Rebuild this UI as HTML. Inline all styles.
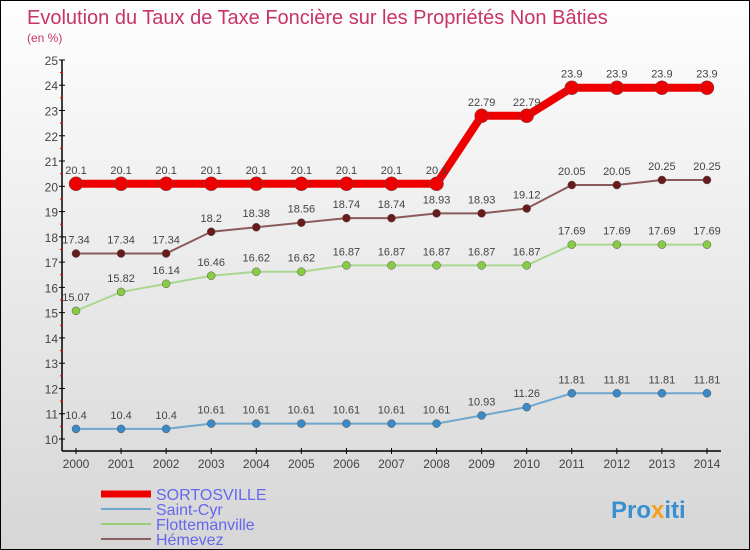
<!DOCTYPE html>
<html><head><meta charset="utf-8"><style>
body{margin:0}
#c{width:750px;height:550px;position:relative;overflow:hidden;box-sizing:border-box;border:1px solid #000;background:linear-gradient(#fefefe,#d6d6d6);font-family:"Liberation Sans",sans-serif}
</style></head><body>
<div id="c">
<svg id="s" width="750" height="550" style="position:absolute;left:0;top:0">
<text x="26" y="23" font-size="20" fill="#c8336a">Evolution du Taux de Taxe Foncière sur les Propriétés Non Bâties</text>
<text x="26" y="41" font-size="12" fill="#c8336a">(en %)</text>
<g id="axes"></g><g id="series"></g>
<g>
<line x1="100" y1="493" x2="150" y2="493" stroke="#ee0000" stroke-width="7"/>
<text x="155" y="499" font-size="16" fill="#6666ee">SORTOSVILLE</text>
<line x1="100" y1="508" x2="150" y2="508" stroke="#6fa8cc" stroke-width="2"/>
<text x="155" y="514" font-size="16" fill="#6666ee">Saint-Cyr</text>
<line x1="100" y1="523" x2="150" y2="523" stroke="#99d077" stroke-width="2"/>
<text x="155" y="529" font-size="16" fill="#6666ee">Flottemanville</text>
<line x1="100" y1="538" x2="150" y2="538" stroke="#8a6060" stroke-width="2"/>
<text x="155" y="544" font-size="16" fill="#6666ee">Hémevez</text>
</g>
<text x="610" y="517" font-size="24" font-weight="bold" fill="#3a8fd0">Pro<tspan fill="#f0a020">x</tspan>iti</text>
</svg>
</div>
<script>
const years=[2000,2001,2002,2003,2004,2005,2006,2007,2008,2009,2010,2011,2012,2013,2014];
const sortosville=[20.1,20.1,20.1,20.1,20.1,20.1,20.1,20.1,20.1,22.79,22.79,23.9,23.9,23.9,23.9];
const saintCyr=[10.4,10.4,10.4,10.61,10.61,10.61,10.61,10.61,10.61,10.93,11.26,11.81,11.81,11.81,11.81];
const flottemanville=[15.07,15.82,16.14,16.46,16.62,16.62,16.87,16.87,16.87,16.87,16.87,17.69,17.69,17.69,17.69];
const hemevez=[17.34,17.34,17.34,18.2,18.38,18.56,18.74,18.74,18.93,18.93,19.12,20.05,20.05,20.25,20.25];
const yTicks=[10,11,12,13,14,15,16,17,18,19,20,21,22,23,24,25];
const NS="http://www.w3.org/2000/svg";
const X=i=>75+i*45.07, Y=v=>438-(v-10)*25.27;
function mk(t,a,p){const e=document.createElementNS(NS,t);for(const k in a)e.setAttribute(k,a[k]);p.appendChild(e);return e;}
const ax=document.getElementById('axes');
let l=mk('line',{x1:61,y1:Y(25),x2:61,y2:450,stroke:'#000','stroke-width':1.5},ax);


l=mk('line',{x1:61,y1:450,x2:720,y2:450,stroke:'#000','stroke-width':1.5},ax);


yTicks.forEach(v=>{
 let t=mk('line',{x1:58,y1:Y(v),x2:64,y2:Y(v),stroke:'#000'},ax);
 
 
 if(v<25){let m=mk('line',{x1:59,y1:Y(v+0.5),x2:62,y2:Y(v+0.5),stroke:'#e00'},ax);
 
 }
 let tx=mk('text',{x:57,y:Y(v)+5,'font-size':12,fill:'#444','text-anchor':'end'},ax);tx.textContent=v;
 
 
});
years.forEach((yr,i)=>{
 let t=mk('line',{x1:X(i),y1:447,x2:X(i),y2:453,stroke:'#000'},ax);
 
 
 let tx=mk('text',{x:X(i),y:467,'font-size':12,fill:'#444','text-anchor':'middle'},ax);tx.textContent=yr;
 
 
});
const sg=document.getElementById('series');
function draw(vals,name,color,w,r,fill){
 const g=mk('g',{},sg);
 
 
 const p=mk('polyline',{points:vals.map((v,i)=>X(i)+','+Y(v)).join(' '),fill:'none',stroke:color,'stroke-width':w,'stroke-linejoin':'round'},g);
 
 
 vals.forEach((v,i)=>{
  const c=mk('circle',{cx:X(i),cy:Y(v),r:r,fill:fill,stroke:'#555','stroke-width':0.5},g);
  
  
  const t=mk('text',{x:X(i),y:Y(v)-10,'font-size':11,fill:'#444','text-anchor':'middle'},g);t.textContent=v;
  
  
 });
}
draw(saintCyr,'saint-cyr','#6fa8cc',2,4,'#3a8ac8');
draw(flottemanville,'flottemanville','#a8d890',2,4,'#88cc44');
draw(hemevez,'hemevez','#8a5a5a',2,4,'#6a1a1a');
draw(sortosville,'sortosville','#ee0000',8,7,'#ee0000');
</script>
</body></html>
